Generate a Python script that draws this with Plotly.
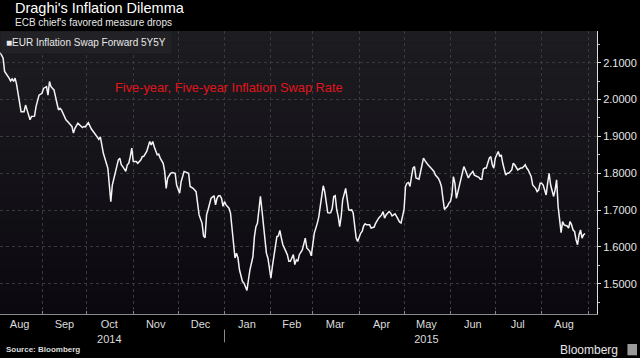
import plotly.graph_objects as go

# ---- data (EUR Inflation Swap Forward 5Y5Y) ----
dates = [
    "2014-08-04", "2014-08-05", "2014-08-06", "2014-08-07", "2014-08-08", "2014-08-10", "2014-08-11",
    "2014-08-12", "2014-08-13", "2014-08-14", "2014-08-15", "2014-08-16", "2014-08-17", "2014-08-18",
    "2014-08-20", "2014-08-21", "2014-08-22", "2014-08-24", "2014-08-25", "2014-08-27", "2014-08-28",
    "2014-08-30",
    "2014-09-01", "2014-09-02", "2014-09-04", "2014-09-05", "2014-09-06", "2014-09-07", "2014-09-09",
    "2014-09-10", "2014-09-11", "2014-09-12", "2014-09-13", "2014-09-14", "2014-09-15", "2014-09-17",
    "2014-09-19", "2014-09-21", "2014-09-22", "2014-09-23", "2014-09-25", "2014-09-26", "2014-09-28",
    "2014-09-29", "2014-09-30",
    "2014-10-02", "2014-10-03", "2014-10-04", "2014-10-06", "2014-10-08", "2014-10-09", "2014-10-10",
    "2014-10-11", "2014-10-12", "2014-10-14", "2014-10-15", "2014-10-16", "2014-10-17", "2014-10-18",
    "2014-10-20", "2014-10-21", "2014-10-22", "2014-10-23", "2014-10-24", "2014-10-25", "2014-10-27",
    "2014-10-28", "2014-10-29", "2014-10-30", "2014-10-31",
    "2014-11-01", "2014-11-03", "2014-11-04", "2014-11-06", "2014-11-07", "2014-11-08", "2014-11-10",
    "2014-11-11", "2014-11-12", "2014-11-13", "2014-11-14", "2014-11-15", "2014-11-16", "2014-11-17",
    "2014-11-18", "2014-11-19", "2014-11-21", "2014-11-22", "2014-11-23", "2014-11-24", "2014-11-26",
    "2014-11-27", "2014-11-29", "2014-11-30",
    "2014-12-02", "2014-12-03", "2014-12-05", "2014-12-06", "2014-12-08", "2014-12-09", "2014-12-10",
    "2014-12-11", "2014-12-13", "2014-12-14", "2014-12-15", "2014-12-17", "2014-12-18", "2014-12-19",
    "2014-12-20", "2014-12-21", "2014-12-22", "2014-12-23", "2014-12-25", "2014-12-26", "2014-12-27",
    "2014-12-28", "2014-12-29", "2014-12-30", "2014-12-31",
    "2015-01-01", "2015-01-02", "2015-01-04", "2015-01-05", "2015-01-06", "2015-01-07", "2015-01-08",
    "2015-01-09", "2015-01-10", "2015-01-11", "2015-01-12", "2015-01-13", "2015-01-14", "2015-01-15",
    "2015-01-16", "2015-01-17", "2015-01-18", "2015-01-20", "2015-01-21", "2015-01-22", "2015-01-23",
    "2015-01-24", "2015-01-25", "2015-01-26", "2015-01-27", "2015-01-28", "2015-01-29", "2015-01-30",
    "2015-01-31",
    "2015-02-01", "2015-02-02", "2015-02-03", "2015-02-04", "2015-02-05", "2015-02-06", "2015-02-07",
    "2015-02-08", "2015-02-09", "2015-02-11", "2015-02-12", "2015-02-13", "2015-02-14", "2015-02-15",
    "2015-02-16", "2015-02-17", "2015-02-18", "2015-02-19", "2015-02-20", "2015-02-22", "2015-02-23",
    "2015-02-24", "2015-02-25", "2015-02-26", "2015-02-27", "2015-02-28",
    "2015-03-01", "2015-03-02", "2015-03-04", "2015-03-05", "2015-03-06", "2015-03-07", "2015-03-08",
    "2015-03-09", "2015-03-10", "2015-03-11", "2015-03-12", "2015-03-13", "2015-03-14", "2015-03-15",
    "2015-03-16", "2015-03-17", "2015-03-18", "2015-03-19", "2015-03-20", "2015-03-21", "2015-03-23",
    "2015-03-24", "2015-03-25", "2015-03-26", "2015-03-27", "2015-03-28", "2015-03-29", "2015-03-30",
    "2015-03-31",
    "2015-04-02", "2015-04-03", "2015-04-04", "2015-04-05", "2015-04-06", "2015-04-08", "2015-04-09",
    "2015-04-11", "2015-04-12", "2015-04-14", "2015-04-15", "2015-04-16", "2015-04-17", "2015-04-18",
    "2015-04-19", "2015-04-21", "2015-04-22", "2015-04-23", "2015-04-24", "2015-04-25", "2015-04-26",
    "2015-04-27", "2015-04-28", "2015-04-29",
    "2015-05-01", "2015-05-02", "2015-05-03", "2015-05-04", "2015-05-05", "2015-05-06", "2015-05-07",
    "2015-05-08", "2015-05-09", "2015-05-11", "2015-05-12", "2015-05-13", "2015-05-14", "2015-05-15",
    "2015-05-16", "2015-05-17", "2015-05-19", "2015-05-21", "2015-05-22", "2015-05-24", "2015-05-25",
    "2015-05-26", "2015-05-27", "2015-05-28", "2015-05-30", "2015-05-31",
    "2015-06-01", "2015-06-02", "2015-06-03", "2015-06-04", "2015-06-05", "2015-06-06", "2015-06-07",
    "2015-06-08", "2015-06-09", "2015-06-10", "2015-06-11", "2015-06-13", "2015-06-14", "2015-06-15",
    "2015-06-16", "2015-06-17", "2015-06-18", "2015-06-20", "2015-06-21", "2015-06-22", "2015-06-23",
    "2015-06-24", "2015-06-25", "2015-06-26", "2015-06-27", "2015-06-28", "2015-06-29", "2015-06-30",
    "2015-07-01", "2015-07-02", "2015-07-03", "2015-07-04", "2015-07-05", "2015-07-06", "2015-07-07",
    "2015-07-08", "2015-07-09", "2015-07-10", "2015-07-12", "2015-07-13", "2015-07-14", "2015-07-15",
    "2015-07-16", "2015-07-18", "2015-07-19", "2015-07-20", "2015-07-21", "2015-07-22", "2015-07-23",
    "2015-07-24", "2015-07-25", "2015-07-26", "2015-07-28", "2015-07-29", "2015-07-30", "2015-07-31",
    "2015-08-01", "2015-08-02", "2015-08-03", "2015-08-04", "2015-08-05", "2015-08-06", "2015-08-07",
    "2015-08-08", "2015-08-09", "2015-08-10", "2015-08-11", "2015-08-12", "2015-08-13", "2015-08-14",
    "2015-08-15", "2015-08-16", "2015-08-18", "2015-08-19", "2015-08-20", "2015-08-21", "2015-08-22",
    "2015-08-23", "2015-08-24", "2015-08-25", "2015-08-26", "2015-08-27", "2015-08-28", "2015-08-29",
    "2015-08-30",
]

rates = [
    2.128, 2.121, 2.112, 2.076, 2.071, 2.058, 2.050,
    2.056, 2.049, 2.058, 2.041, 2.012, 1.990, 1.967,
    1.967, 1.985, 1.972, 1.945, 1.954, 1.955, 1.981,
    2.012,
    2.017, 2.030, 2.035, 2.012, 2.049, 2.035, 2.026,
    2.003, 1.990, 1.972, 1.976, 1.972, 1.963, 1.945,
    1.936, 1.927, 1.909, 1.922, 1.936, 1.931, 1.924,
    1.927, 1.926,
    1.937, 1.927, 1.920, 1.909, 1.895, 1.892, 1.899,
    1.877, 1.854, 1.827, 1.814, 1.768, 1.723, 1.768,
    1.805, 1.818, 1.836, 1.841, 1.823, 1.818, 1.805,
    1.823, 1.827, 1.845, 1.868,
    1.832, 1.832, 1.827, 1.836, 1.845, 1.846, 1.859,
    1.877, 1.886, 1.877, 1.886, 1.872, 1.859, 1.850,
    1.852, 1.841, 1.827, 1.805, 1.759, 1.787, 1.800,
    1.802, 1.800, 1.768,
    1.746, 1.777, 1.805, 1.803, 1.800, 1.764, 1.761,
    1.759, 1.750, 1.723, 1.687, 1.664, 1.630, 1.625,
    1.687, 1.701, 1.714, 1.732, 1.739, 1.714, 1.732,
    1.739, 1.739, 1.732, 1.710,
    1.723, 1.714, 1.705, 1.692, 1.646, 1.601, 1.570,
    1.583, 1.570, 1.538, 1.520, 1.506, 1.502, 1.493,
    1.482, 1.511, 1.538, 1.574, 1.628, 1.655, 1.664,
    1.701, 1.737, 1.701, 1.664, 1.628, 1.583, 1.570,
    1.547,
    1.515, 1.547, 1.579, 1.597, 1.628, 1.630, 1.645,
    1.624, 1.606, 1.588, 1.579, 1.561, 1.561, 1.570,
    1.579, 1.552, 1.565, 1.561, 1.579, 1.592, 1.606,
    1.624, 1.597, 1.592, 1.588, 1.576,
    1.601, 1.637, 1.664, 1.681, 1.710, 1.741, 1.766,
    1.750, 1.723, 1.693, 1.692, 1.693, 1.705, 1.737,
    1.739, 1.701, 1.683, 1.655, 1.683, 1.728, 1.759,
    1.732, 1.701, 1.699, 1.701, 1.692, 1.651, 1.624,
    1.615,
    1.637, 1.642, 1.657, 1.663, 1.660, 1.660, 1.651,
    1.654, 1.664, 1.678, 1.683, 1.687, 1.696, 1.678,
    1.687, 1.696, 1.692, 1.684, 1.687, 1.690, 1.683,
    1.674, 1.668, 1.665,
    1.701, 1.764, 1.773, 1.775, 1.764, 1.791, 1.814,
    1.818, 1.787, 1.784, 1.805, 1.827, 1.841, 1.834,
    1.827, 1.823, 1.814, 1.805, 1.795, 1.786, 1.777,
    1.764, 1.732, 1.702, 1.710, 1.719,
    1.723, 1.741, 1.791, 1.773, 1.732, 1.750, 1.764,
    1.777, 1.795, 1.818, 1.809, 1.787, 1.795, 1.800,
    1.805, 1.795, 1.793, 1.789, 1.784, 1.784, 1.811,
    1.814, 1.814, 1.827, 1.841, 1.845, 1.823, 1.814,
    1.841, 1.850, 1.859, 1.845, 1.850, 1.827, 1.814,
    1.795, 1.800, 1.800, 1.809, 1.827, 1.823, 1.814,
    1.809, 1.814, 1.814, 1.818, 1.823, 1.814, 1.809,
    1.800, 1.791, 1.768, 1.759, 1.750, 1.755, 1.773,
    1.773, 1.768, 1.750, 1.741, 1.773, 1.800, 1.768,
    1.755, 1.737, 1.755, 1.782, 1.710, 1.674, 1.639,
    1.669, 1.660, 1.657, 1.651, 1.669, 1.660, 1.646,
    1.642, 1.619, 1.606, 1.633, 1.646, 1.624, 1.633,
    1.636,
]

month_tick_dates = ["2014-08-17", "2014-09-16", "2014-10-16", "2014-11-16", "2014-12-16",
                    "2015-01-16", "2015-02-15", "2015-03-16", "2015-04-16", "2015-05-16",
                    "2015-06-16", "2015-07-16", "2015-08-16"]
month_tick_labels = ["Aug", "Sep", "Oct<br>2014", "Nov", "Dec", "Jan", "Feb", "Mar", "Apr",
                     "May<br>2015", "Jun", "Jul", "Aug"]
y_ticks = [1.5, 1.6, 1.7, 1.8, 1.9, 2.0, 2.1]
y_minor_ticks = [1.45, 1.55, 1.65, 1.75, 1.85, 1.95, 2.05, 2.15]

FONT = "Liberation Sans"

fig = go.Figure()
fig.add_trace(go.Scatter(x=dates, y=rates, mode="lines",
                         line=dict(color="#f4f4f4", width=1.5),
                         name="EUR Inflation Swap Forward 5Y5Y", showlegend=False))

# plot-area vertical gradient (dark grey top -> near black bottom)
shapes = []
n = 24
top = (29, 28, 33)
bot = (11, 9, 15)
for i in range(n):
    t = i / (n - 1)
    c = tuple(round(top[k] + (bot[k] - top[k]) * t) for k in range(3))
    shapes.append(dict(type="rect", xref="paper", yref="paper", x0=0, x1=1,
                       y0=1 - (i + 1) / n, y1=1 - i / n, line=dict(width=0),
                       fillcolor="rgb(%d,%d,%d)" % c, layer="below"))
# year separator under the axis
shapes.append(dict(type="line", xref="x", yref="paper", x0="2015-01-01", x1="2015-01-01",
                   y0=-0.055, y1=-0.1, line=dict(color="#8a8a8a", width=1)))
# small logo glyph
shapes.append(dict(type="rect", xref="paper", yref="paper", x0=1.051, x1=1.067, y0=-0.106,
                   y1=-0.146, line=dict(width=0), fillcolor="#9a9a9a"))

annotations = [
    dict(text="Draghi's Inflation Dilemma", xref="paper", yref="paper", x=0.021, y=1.08,
         xanchor="left", yanchor="middle", showarrow=False,
         font=dict(family=FONT, size=14.5, color="#ffffff")),
    dict(text="ECB chief's favored measure drops", xref="paper", yref="paper", x=0.021, y=1.03,
         xanchor="left", yanchor="middle", showarrow=False,
         font=dict(family=FONT, size=10, color="#e6e6e6")),
    dict(text="■EUR Inflation Swap Forward 5Y5Y", xref="paper", yref="paper", x=0.0, y=1.0,
         xanchor="left", yanchor="top", showarrow=False, bgcolor="#222226", borderpad=5,
         font=dict(family=FONT, size=10, color="#e8e8e8")),
    dict(text="Five-year, Five-year Inflation Swap Rate", xref="paper", yref="paper",
         x=0.383, y=0.799, xanchor="center", yanchor="middle", showarrow=False,
         font=dict(family=FONT, size=12.8, color="#e0151d")),
    dict(text="<b>Source: Bloomberg</b>", xref="paper", yref="paper", x=-0.0, y=-0.127,
         xanchor="left", yanchor="middle", showarrow=False, xshift=4,
         font=dict(family=FONT, size=8, color="#dddddd")),
    dict(text="Bloomberg", xref="paper", yref="paper", x=1.039, y=-0.127,
         xanchor="right", yanchor="middle", showarrow=False,
         font=dict(family=FONT, size=12, color="#e6e6e6")),
]

fig.update_layout(
    width=640, height=358,
    margin=dict(l=0, r=43, t=31, b=44),
    paper_bgcolor="#000000",
    plot_bgcolor="#141318",
    shapes=shapes,
    annotations=annotations,
    showlegend=False,
    xaxis=dict(
        type="date",
        range=["2014-08-03 22:00", "2015-09-07"],
        tickmode="array", tickvals=month_tick_dates, ticktext=month_tick_labels,
        ticks="", showgrid=False, zeroline=False,
        showline=True, linecolor="#8a8a8a", linewidth=1,
        tickfont=dict(family=FONT, size=11, color="#dcdcdc"),
        minor=dict(dtick="M1", tick0="2014-08-01", showgrid=True, griddash="dot",
                   gridcolor="#3a3a3e", gridwidth=1, ticks="inside", ticklen=3,
                   tickcolor="#8a8a8a"),
    ),
    yaxis=dict(
        side="right", range=[1.418, 2.186],
        tickmode="array", tickvals=y_ticks, tickformat=".4f",
        ticks="outside", ticklen=3, tickcolor="#dddddd",
        showgrid=True, griddash="dot", gridcolor="#3a3a3e", gridwidth=1,
        zeroline=False, showline=True, linecolor="#dddddd", linewidth=1,
        tickfont=dict(family=FONT, size=11, color="#e6e6e6"),
        minor=dict(tickmode="array", tickvals=y_minor_ticks, ticks="outside", ticklen=2,
                   tickcolor="#bbbbbb", showgrid=False),
    ),
)

fig.write_html(
    "out.html",
    config={"displayModeBar": False},
    post_script="document.body.style.margin='0';document.body.style.overflow='hidden';"
                "document.body.style.background='#000';",
)
